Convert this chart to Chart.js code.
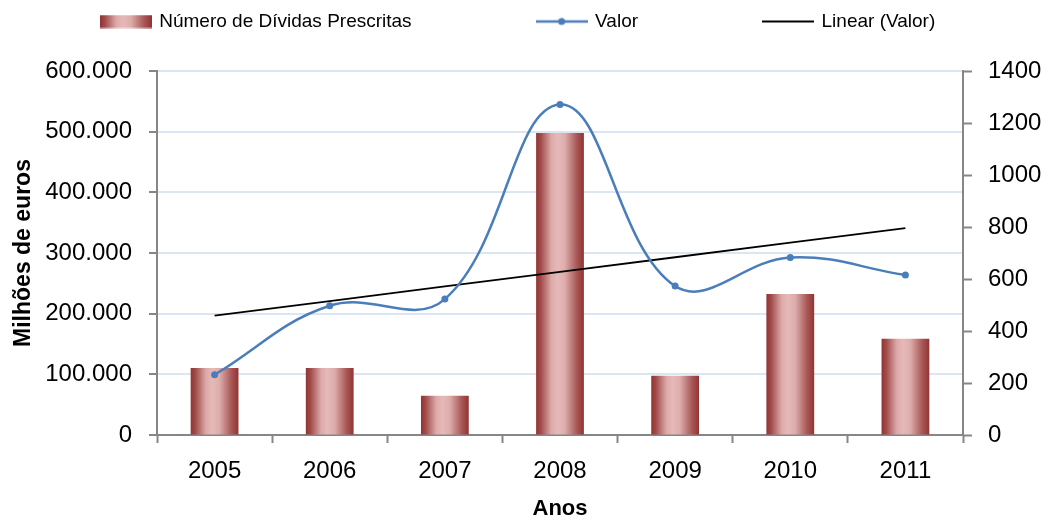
<!DOCTYPE html>
<html>
<head>
<meta charset="utf-8">
<title>Dívidas prescritas 2005–2011</title>
<script src="https://cdn.jsdelivr.net/npm/chart.js@4.4.1/dist/chart.umd.min.js"></script>
<style>
  html, body { margin: 0; padding: 0; background: #ffffff; }
  #wrap { width: 1049px; height: 522px; }
</style>
</head>
<body>
<div id="wrap"><canvas id="grafico" width="1049" height="522"></canvas></div>
<script>
// Anos
const anos = ['2005', '2006', '2007', '2008', '2009', '2010', '2011'];
// Número de dívidas prescritas (eixo direito)
const numeroDividas = [258, 258, 151, 1162, 228, 542, 370];
// Valor em milhões de euros (eixo esquerdo)
const valor = [99300, 213000, 224000, 544600, 245500, 292600, 263600];
// Escalas
const eixoEuros = { min: 0, max: 600000, passo: 100000 };
const eixoNumero = { min: 0, max: 1400, passo: 200 };

// Tendência linear (mínimos quadrados) do Valor ao longo dos anos
function tendenciaLinear(ys) {
  const n = ys.length;
  const mx = (n - 1) / 2;
  const my = ys.reduce((a, b) => a + b, 0) / n;
  let sxy = 0, sxx = 0;
  ys.forEach((y, i) => { sxy += (i - mx) * (y - my); sxx += (i - mx) * (i - mx); });
  const b = sxy / sxx;
  return ys.map((_, i) => my + b * (i - mx));
}
const tendencia = tendenciaLinear(valor);

const FONTE = '"Liberation Sans", Arial, sans-serif';
const CINZA = '#868686';
const AZUL = '#4a7ebb';
const BAR_PCT = 0.415;

function milhares(v) {
  return String(v).replace(/\B(?=(\d{3})+(?!\d))/g, '.');
}

function gradienteBarra(g, x0, x1) {
  const grad = g.createLinearGradient(x0, 0, x1, 0);
  grad.addColorStop(0.00, '#913433');
  grad.addColorStop(0.10, '#a14c4a');
  grad.addColorStop(0.32, '#dcaaa9');
  grad.addColorStop(0.45, '#e6b9b8');
  grad.addColorStop(0.60, '#ddadac');
  grad.addColorStop(0.85, '#a85857');
  grad.addColorStop(1.00, '#913433');
  return grad;
}

// Ícones da legenda
function icone(desenhar) {
  const c = document.createElement('canvas');
  c.width = 52; c.height = 14;
  desenhar(c.getContext('2d'), c.width, c.height);
  return c;
}
const iconeBarra = icone((g, w, h) => {
  g.fillStyle = gradienteBarra(g, 0, w);
  g.fillRect(0, 0.5, w, 13);
});
const iconeValor = icone((g, w, h) => {
  g.strokeStyle = AZUL; g.lineWidth = 2.5;
  g.beginPath(); g.moveTo(0, h / 2); g.lineTo(w, h / 2); g.stroke();
  g.fillStyle = AZUL;
  g.beginPath(); g.arc(w / 2, h / 2, 3.5, 0, Math.PI * 2); g.fill();
});
const iconeLinear = icone((g, w, h) => {
  g.strokeStyle = '#000'; g.lineWidth = 1.8;
  g.beginPath(); g.moveTo(0, h / 2); g.lineTo(w, h / 2); g.stroke();
});
const iconesLegenda = [iconeBarra, iconeValor, iconeLinear];

// Legenda numa só linha, com espaçamento largo entre itens
const ALTURA_LEGENDA = 71;
const TOPO_LINHA_LEGENDA = 12;
const DESLOCA_LEGENDA = 6;
const legendaLarga = {
  id: 'legendaLarga',
  beforeInit(chart) {
    const leg = chart.legend;
    if (!leg) return;
    const fit = leg.fit;
    leg.fit = function () {
      const mw = this.maxWidth;
      this.maxWidth = 1e5;
      fit.call(this);
      this.maxWidth = mw;
      this.width = mw;
      this.height = ALTURA_LEGENDA;
    };
    const draw = leg._draw;
    leg._draw = function () {
      const { top, left, right } = this;
      const pad = this.options.labels.padding;
      this.top = TOPO_LINHA_LEGENDA - pad;
      this.left = left - 1e4 - DESLOCA_LEGENDA;
      this.right = right + 1e4 - DESLOCA_LEGENDA;
      draw.call(this);
      this.top = top; this.left = left; this.right = right;
    };
  }
};

new Chart(document.getElementById('grafico'), {
  data: {
    labels: anos,
    datasets: [
      {
        type: 'bar',
        label: 'Número de Dívidas Prescritas',
        data: numeroDividas,
        yAxisID: 'y1',
        order: 3,
        barPercentage: BAR_PCT,
        categoryPercentage: 1,
        borderWidth: 0,
        backgroundColor(ctx) {
          const chart = ctx.chart;
          const sx = chart.scales.x;
          if (!chart.chartArea || !sx || ctx.dataIndex === undefined) return '#c0504d';
          const cx = sx.getPixelForValue(ctx.dataIndex);
          const w = sx.width / anos.length * BAR_PCT;
          return gradienteBarra(chart.ctx, cx - w / 2, cx + w / 2);
        }
      },
      {
        type: 'line',
        label: 'Valor',
        data: valor,
        yAxisID: 'y',
        order: 1,
        borderColor: AZUL,
        backgroundColor: AZUL,
        borderWidth: 2.5,
        pointRadius: 3.5,
        pointBorderWidth: 0,
        pointBackgroundColor: AZUL,
        tension: 0.4,
        fill: false
      },
      {
        type: 'line',
        label: 'Linear (Valor)',
        data: tendencia,
        yAxisID: 'y',
        order: 2,
        borderColor: '#000000',
        borderWidth: 1.8,
        pointRadius: 0,
        tension: 0,
        fill: false
      }
    ]
  },
  options: {
    responsive: false,
    animation: false,
    events: [],
    layout: { padding: 0 },
    plugins: {
      tooltip: { enabled: false },
      legend: {
        position: 'top',
        labels: {
          usePointStyle: true,
          pointStyleWidth: 48,
          boxHeight: 13,
          padding: 126,
          color: '#000',
          font: { family: FONTE, size: 19 },
          generateLabels(chart) {
            return chart.data.datasets.map((ds, i) => ({
              text: ds.label,
              pointStyle: iconesLegenda[i],
              fillStyle: 'transparent',
              strokeStyle: 'transparent',
              lineWidth: 0,
              fontColor: '#000',
              hidden: false,
              datasetIndex: i
            }));
          }
        }
      }
    },
    scales: {
      x: {
        offset: true,
        grid: {
          offset: true,
          drawOnChartArea: false,
          drawTicks: true,
          tickLength: 8,
          tickColor: CINZA,
          tickWidth: 2,
          color: CINZA
        },
        border: { color: CINZA, width: 2 },
        ticks: { color: '#000', font: { family: FONTE, size: 24 }, padding: 14 },
        title: {
          display: true,
          text: 'Anos',
          color: '#000',
          font: { family: FONTE, size: 22, weight: 'bold' },
          padding: { top: 0, bottom: 0 }
        },
        afterFit(s) { s.height = 87; }
      },
      y: {
        position: 'left',
        min: eixoEuros.min,
        max: eixoEuros.max,
        ticks: {
          stepSize: eixoEuros.passo,
          color: '#000',
          font: { family: FONTE, size: 24 },
          padding: 17,
          callback: (v) => milhares(v)
        },
        grid: {
          color: '#dce6f2',
          lineWidth: 2,
          tickColor: CINZA,
          tickWidth: 2,
          tickLength: 8
        },
        border: { color: CINZA, width: 2 },
        title: {
          display: true,
          text: 'Milhões de euros',
          color: '#000',
          font: { family: FONTE, size: 23, weight: 'bold' },
          padding: { top: 10, bottom: 0 }
        },
        afterFit(s) { s.width = 157; }
      },
      y1: {
        position: 'right',
        min: eixoNumero.min,
        max: eixoNumero.max,
        ticks: {
          stepSize: eixoNumero.passo,
          color: '#000',
          font: { family: FONTE, size: 24 },
          padding: 16,
          callback: (v) => String(v)
        },
        grid: {
          drawOnChartArea: false,
          tickColor: CINZA,
          tickWidth: 2,
          tickLength: 9,
          color: CINZA
        },
        border: { color: CINZA, width: 2 },
        afterFit(s) { s.width = 86; }
      }
    }
  },
  plugins: [legendaLarga]
});
</script>
</body>
</html>
